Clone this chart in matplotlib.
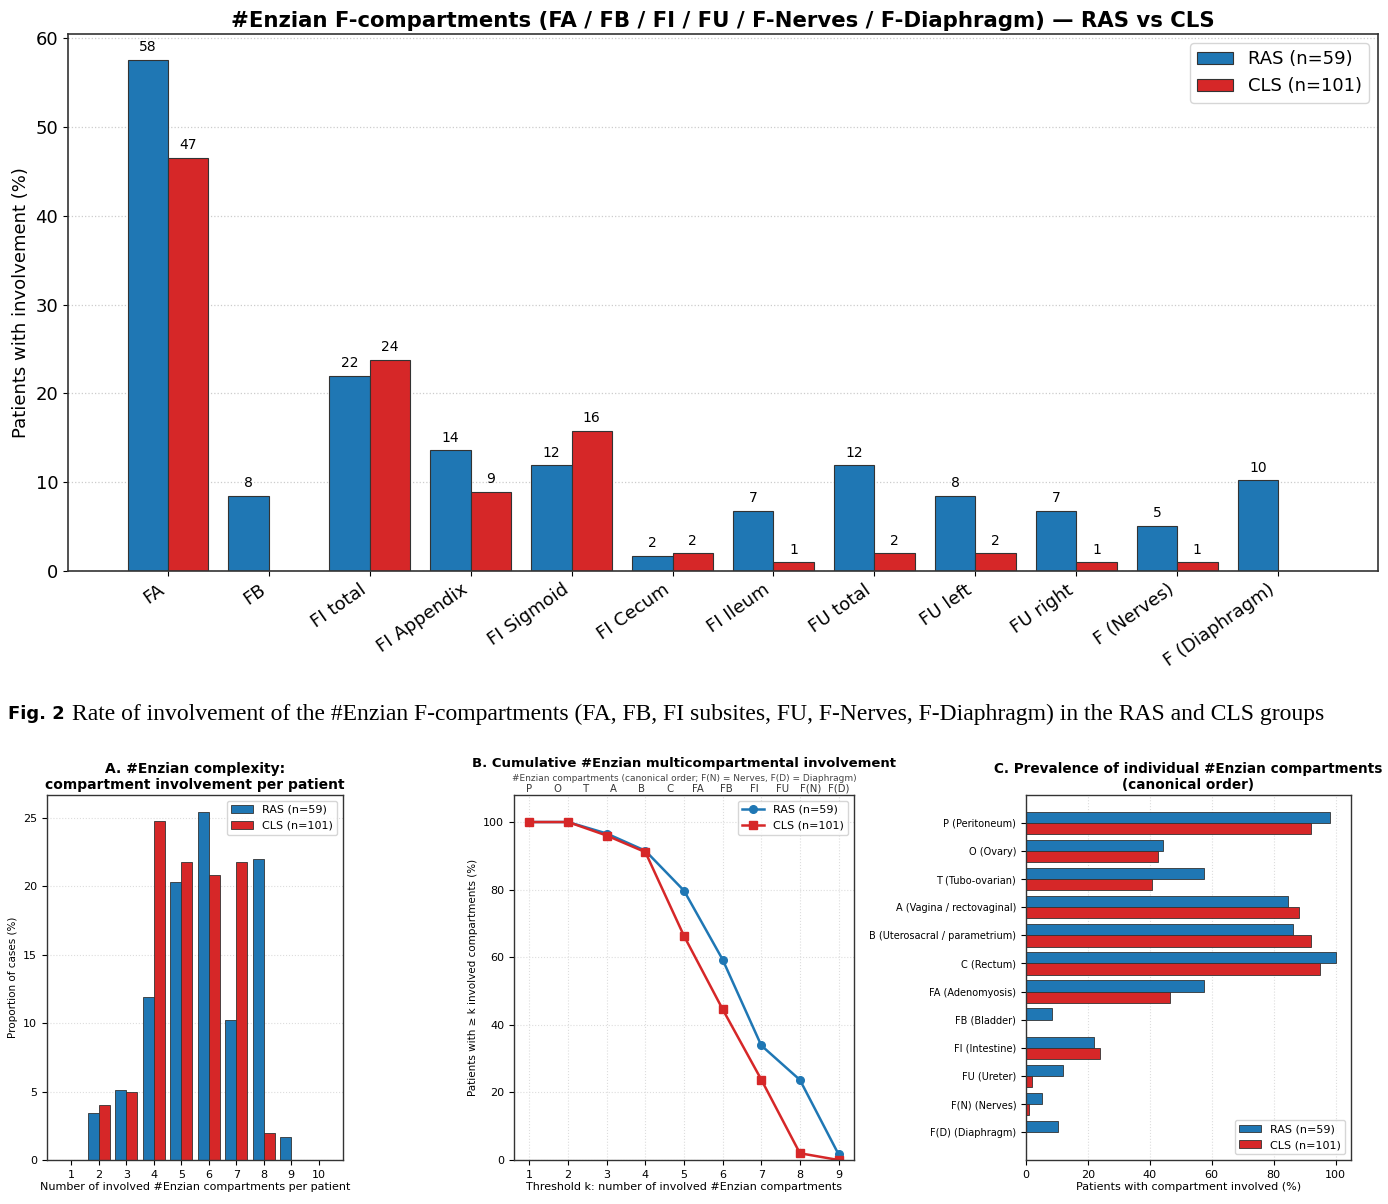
import numpy as np
import matplotlib
matplotlib.use("Agg")
import matplotlib.pyplot as plt

BLUE = "#1f77b4"
RED = "#d62728"
EDGE = "#333333"

# --- top panel: F-compartments ---
f_labels = ["FA", "FB", "FI total", "FI Appendix", "FI Sigmoid", "FI Cecum",
            "FI Ileum", "FU total", "FU left", "FU right", "F (Nerves)", "F (Diaphragm)"]
f_ras = [57.6, 8.5, 22.0, 13.6, 11.9, 1.7, 6.8, 11.9, 8.5, 6.8, 5.1, 10.2]
f_cls = [46.53, 0.0, 23.8, 8.9, 15.8, 2.0, 1.0, 2.0, 2.0, 1.0, 1.0, 0.0]

# --- A: number of involved compartments per patient ---
n_comp = [1, 2, 3, 4, 5, 6, 7, 8, 9, 10]
a_ras = [0.0, 3.4, 5.1, 11.9, 20.3, 25.4, 10.2, 22.0, 1.7, 0.0]
a_cls = [0.0, 4.0, 5.0, 24.8, 21.8, 20.8, 21.8, 2.0, 0.0, 0.0]

# --- B: cumulative >= k ---
k_thr = [1, 2, 3, 4, 5, 6, 7, 8, 9]
b_ras = [100.0, 100.0, 96.6, 91.5, 79.7, 59.3, 33.9, 23.7, 1.7]
b_cls = [100.0, 100.0, 96.0, 91.1, 66.3, 44.6, 23.8, 2.0, 0.0]
b_top_labels = ["P", "O", "T", "A", "B", "C", "FA", "FB", "FI", "FU", "F(N)", "F(D)"]

# --- C: prevalence per compartment ---
c_labels = ["P (Peritoneum)", "O (Ovary)", "T (Tubo-ovarian)", "A (Vagina / rectovaginal)",
            "B (Uterosacral / parametrium)", "C (Rectum)", "FA (Adenomyosis)", "FB (Bladder)",
            "FI (Intestine)", "FU (Ureter)", "F(N) (Nerves)", "F(D) (Diaphragm)"]
c_ras = [98.3, 44.1, 57.6, 84.7, 86.4, 100.0, 57.6, 8.5, 22.0, 11.9, 5.1, 10.2]
c_cls = [92.1, 42.6, 40.6, 88.1, 92.1, 95.0, 46.5, 0.0, 23.8, 2.0, 1.0, 0.0]

lab_ras = "RAS (n=59)"
lab_cls = "CLS (n=101)"

W, H = 1388, 1204
fig = plt.figure(figsize=(W / 100, H / 100), dpi=100)


def box(l, t, r, b):
    return [l / W, 1 - b / H, (r - l) / W, (b - t) / H]


def style_axes(ax, lw=1.0):
    for s in ax.spines.values():
        s.set_color("#333333")
        s.set_linewidth(lw)


# top chart
ax = fig.add_axes(box(68, 34, 1378, 571))
x = np.arange(len(f_labels))
w = 0.4
br = ax.bar(x - w / 2, f_ras, w, color=BLUE, edgecolor=EDGE, linewidth=0.8, label=lab_ras)
bc = ax.bar(x + w / 2, f_cls, w, color=RED, edgecolor=EDGE, linewidth=0.8, label=lab_cls)
for bars in (br, bc):
    for b in bars:
        h = b.get_height()
        if h > 0:
            ax.annotate(f"{h:.0f}", (b.get_x() + b.get_width() / 2, h), xytext=(0, 4),
                        textcoords="offset points", ha="center", va="bottom", fontsize=10)
ax.set_xticks(x)
ax.set_xticklabels(f_labels, rotation=35, ha="right", fontsize=13)
ax.tick_params(axis="y", labelsize=13)
ax.set_ylabel("Patients with involvement (%)", fontsize=13)
ax.set_title("#Enzian F-compartments (FA / FB / FI / FU / F-Nerves / F-Diaphragm) \u2014 RAS vs CLS",
             fontsize=15.3, fontweight="bold", pad=5)
ax.grid(axis="y", linestyle=":", color="#cccccc", linewidth=0.9)
ax.set_axisbelow(True)
ax.legend(loc="upper right", fontsize=13)
style_axes(ax, 1.2)

# caption
fig.text(8 / W, 1 - 714 / H, "Fig. 2", fontsize=13, fontweight="bold", family="DejaVu Sans",
         va="center", ha="left")
fig.text(72 / W, 1 - 714 / H,
         "Rate of involvement of the #Enzian F-compartments (FA, FB, FI subsites, FU, F-Nerves, "
         "F-Diaphragm) in the RAS and CLS groups",
         fontsize=17, family="Liberation Serif", va="center", ha="left")

# panel A
axa = fig.add_axes(box(47, 795, 343, 1160))
xa = np.array(n_comp)
axa.bar(xa - w / 2, a_ras, w, color=BLUE, edgecolor=EDGE, linewidth=0.6, label=lab_ras)
axa.bar(xa + w / 2, a_cls, w, color=RED, edgecolor=EDGE, linewidth=0.6, label=lab_cls)
axa.set_xticks(xa)
axa.tick_params(labelsize=8)
axa.set_xlabel("Number of involved #Enzian compartments per patient", fontsize=8, labelpad=2)
axa.set_ylabel("Proportion of cases (%)", fontsize=7.5)
axa.set_title("A. #Enzian complexity:\ncompartment involvement per patient",
              fontsize=10, fontweight="bold", pad=4)
axa.grid(axis="y", linestyle=":", color="#dddddd", linewidth=0.8)
axa.set_axisbelow(True)
axa.legend(loc="upper right", fontsize=8)
style_axes(axa)

# panel B
axb = fig.add_axes(box(514, 795, 854, 1160))
axb.plot(k_thr, b_ras, "-o", color=BLUE, linewidth=1.8, markersize=5.5, label=lab_ras)
axb.plot(k_thr, b_cls, "-s", color=RED, linewidth=1.8, markersize=5.5, label=lab_cls)
axb.set_xlim(0.6, 9.4)
axb.set_ylim(0, 108)
axb.set_xticks(k_thr)
axb.tick_params(labelsize=8)
axb.set_xlabel("Threshold k: number of involved #Enzian compartments", fontsize=8, labelpad=2)
axb.set_ylabel("Patients with \u2265 k involved compartments (%)", fontsize=7.5)
axb.grid(True, linestyle=":", color="#dddddd", linewidth=0.8)
axb.legend(loc="upper right", fontsize=8)
style_axes(axb)
axt = axb.twiny()
axt.set_xlim(axb.get_xlim())
axt.set_xticks(np.linspace(1, 9, len(b_top_labels)))
axt.set_xticklabels(b_top_labels, fontsize=7.3, color="#333333")
axt.tick_params(axis="x", length=0, pad=1)
axt.set_xlabel("#Enzian compartments (canonical order; F(N) = Nerves, F(D) = Diaphragm)",
               fontsize=6.5, color="#444444", labelpad=2)
for s in axt.spines.values():
    s.set_visible(False)
axb.set_title("B. Cumulative #Enzian multicompartmental involvement",
              fontsize=9.5, fontweight="bold", pad=20)

# panel C
axc = fig.add_axes(box(1026, 795, 1351, 1160))
yc = np.arange(len(c_labels))
axc.barh(yc - w / 2, c_ras, w, color=BLUE, edgecolor=EDGE, linewidth=0.6, label=lab_ras)
axc.barh(yc + w / 2, c_cls, w, color=RED, edgecolor=EDGE, linewidth=0.6, label=lab_cls)
axc.set_yticks(yc)
axc.set_yticklabels(c_labels, fontsize=7)
axc.invert_yaxis()
axc.tick_params(axis="x", labelsize=8)
axc.set_xlabel("Patients with compartment involved (%)", fontsize=8, labelpad=2)
axc.set_title("C. Prevalence of individual #Enzian compartments\n(canonical order)",
              fontsize=9.8, fontweight="bold", pad=4)
axc.grid(axis="x", linestyle=":", color="#dddddd", linewidth=0.8)
axc.set_axisbelow(True)
axc.legend(loc="lower right", fontsize=8)
style_axes(axc)

fig.savefig("out.png", dpi=100)
